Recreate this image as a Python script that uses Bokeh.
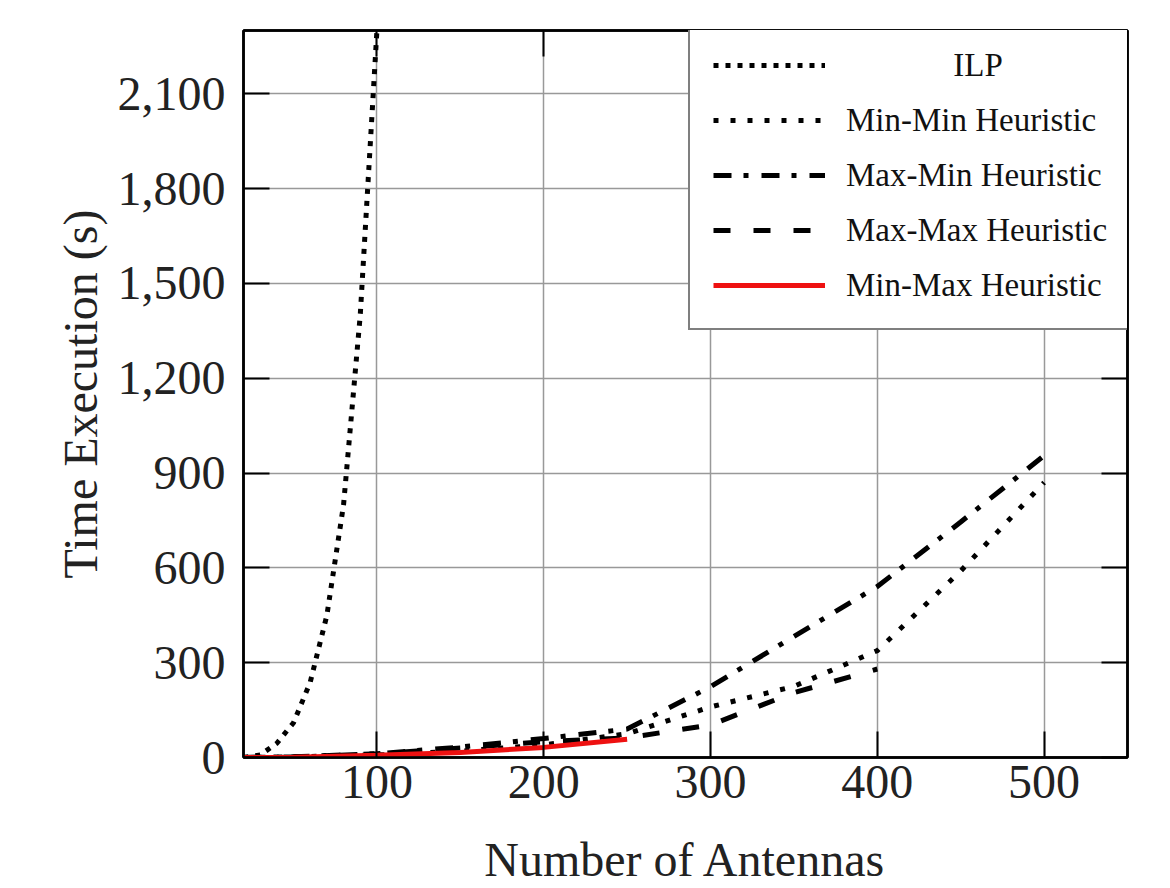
from bokeh.plotting import figure
from bokeh.models import (Range1d, LinearAxis, FixedTicker, NumeralTickFormatter, Legend,
                          LegendItem, CustomLabelingPolicy)
from bokeh.embed import file_html
from bokeh.resources import INLINE

# ---- data ----
ilp_x = [20, 30, 40, 50, 60, 70, 80, 90, 100]
ilp_y = [0, 8, 45, 110, 238, 450, 800, 1400, 2300]

heur_x = [20, 50, 100, 150, 200, 250, 300, 350, 400, 450, 500]
minmin_y = [0, 2, 8, 20, 40, 75, 160, 225, 338, 590, 870]
maxmin_y = [0, 2, 12, 33, 60, 90, 224, 383, 541, 745, 955]

maxmax_x = [20, 50, 100, 150, 200, 250, 300, 350, 400]
maxmax_y = [0, 2, 12, 30, 50, 62, 103, 205, 280]

minmax_x = [20, 50, 100, 150, 200, 250]
minmax_y = [0, 1, 7, 16, 32, 58]

x_ticks = [100, 200, 300, 400, 500]
y_ticks = [0, 300, 600, 900, 1200, 1500, 1800, 2100]

labels = ["\u2003\u2003\u2003\u2005ILP", "Min-Min Heuristic", "Max-Min Heuristic",
          "Max-Max Heuristic", "Min-Max Heuristic"]

SERIF = "Liberation Serif"

p = figure(frame_width=884, frame_height=727,
           min_border_left=243, min_border_right=43, min_border_top=30, min_border_bottom=131,
           x_range=Range1d(20, 550), y_range=Range1d(0, 2300),
           output_backend="svg", toolbar_location=None,
           x_axis_label="Number of Antennas", y_axis_label="Time Execution (s)")

p.background_fill_color = "white"
p.border_fill_color = "white"
p.outline_line_color = "black"
p.outline_line_width = 2.5

# axes
for ax in (p.xaxis[0], p.yaxis[0]):
    ax.axis_line_color = "black"
    ax.axis_line_width = 2.5
    ax.major_tick_in = 26
    ax.major_tick_out = 0
    ax.major_tick_line_width = 2
    ax.minor_tick_line_color = None
    ax.major_label_text_font = SERIF
    ax.major_label_text_font_size = "48px"
    ax.major_label_text_color = "#222222"
    ax.axis_label_text_font = SERIF
    ax.axis_label_text_font_size = "48px"
    ax.axis_label_text_font_style = "normal"
    ax.axis_label_text_color = "#222222"

p.xaxis[0].ticker = FixedTicker(ticks=x_ticks)
p.yaxis[0].ticker = FixedTicker(ticks=y_ticks)
p.yaxis[0].formatter = NumeralTickFormatter(format="0,0")
p.xaxis[0].major_label_standoff = 8
p.xaxis[0].axis_label_standoff = 32
p.yaxis[0].major_label_standoff = 18
p.yaxis[0].axis_label_standoff = 8

top_ax = LinearAxis(ticker=FixedTicker(ticks=x_ticks))
right_ax = LinearAxis(ticker=FixedTicker(ticks=y_ticks))
for ax in (top_ax, right_ax):
    ax.axis_line_color = "black"
    ax.axis_line_width = 2.5
    ax.major_tick_in = 26
    ax.major_tick_out = 0
    ax.major_tick_line_width = 2
    ax.minor_tick_line_color = None
    ax.major_label_policy = CustomLabelingPolicy(code="return []")
p.add_layout(top_ax, "above")
p.add_layout(right_ax, "right")

# grid
p.xgrid.ticker = FixedTicker(ticks=x_ticks)
p.ygrid.ticker = FixedTicker(ticks=y_ticks)
for g in (p.xgrid[0], p.ygrid[0]):
    g.grid_line_color = "#999999"
    g.grid_line_width = 1.5

# series
r_ilp = p.line(ilp_x, ilp_y, line_color="black", line_width=5, line_dash="5 7")
r_mm = p.line(heur_x, minmin_y, line_color="black", line_width=5, line_dash="5 12")
r_xm = p.line(heur_x, maxmin_y, line_color="black", line_width=5, line_dash="18 12 5 13")
r_xx = p.line(maxmax_x, maxmax_y, line_color="black", line_width=5, line_dash="17 23")
r_mx = p.line(minmax_x, minmax_y, line_color="#ee1111", line_width=5)

legend = Legend(items=[LegendItem(label=l, renderers=[r]) for l, r in
                       zip(labels, [r_ilp, r_mm, r_xm, r_xx, r_mx])],
                location=(445, 427))
legend.label_text_font = SERIF
legend.label_text_font_size = "33px"
legend.label_text_color = "#111111"
legend.glyph_width = 112
legend.glyph_height = 40
legend.label_height = 40
legend.label_width = 265
legend.label_standoff = 21
legend.padding = 23
legend.spacing = 15
legend.margin = 0
legend.border_line_color = "black"
legend.border_line_width = 2.5
legend.background_fill_color = "white"
legend.background_fill_alpha = 1.0
p.add_layout(legend)

open("out.html", "w").write(file_html(p, INLINE))
